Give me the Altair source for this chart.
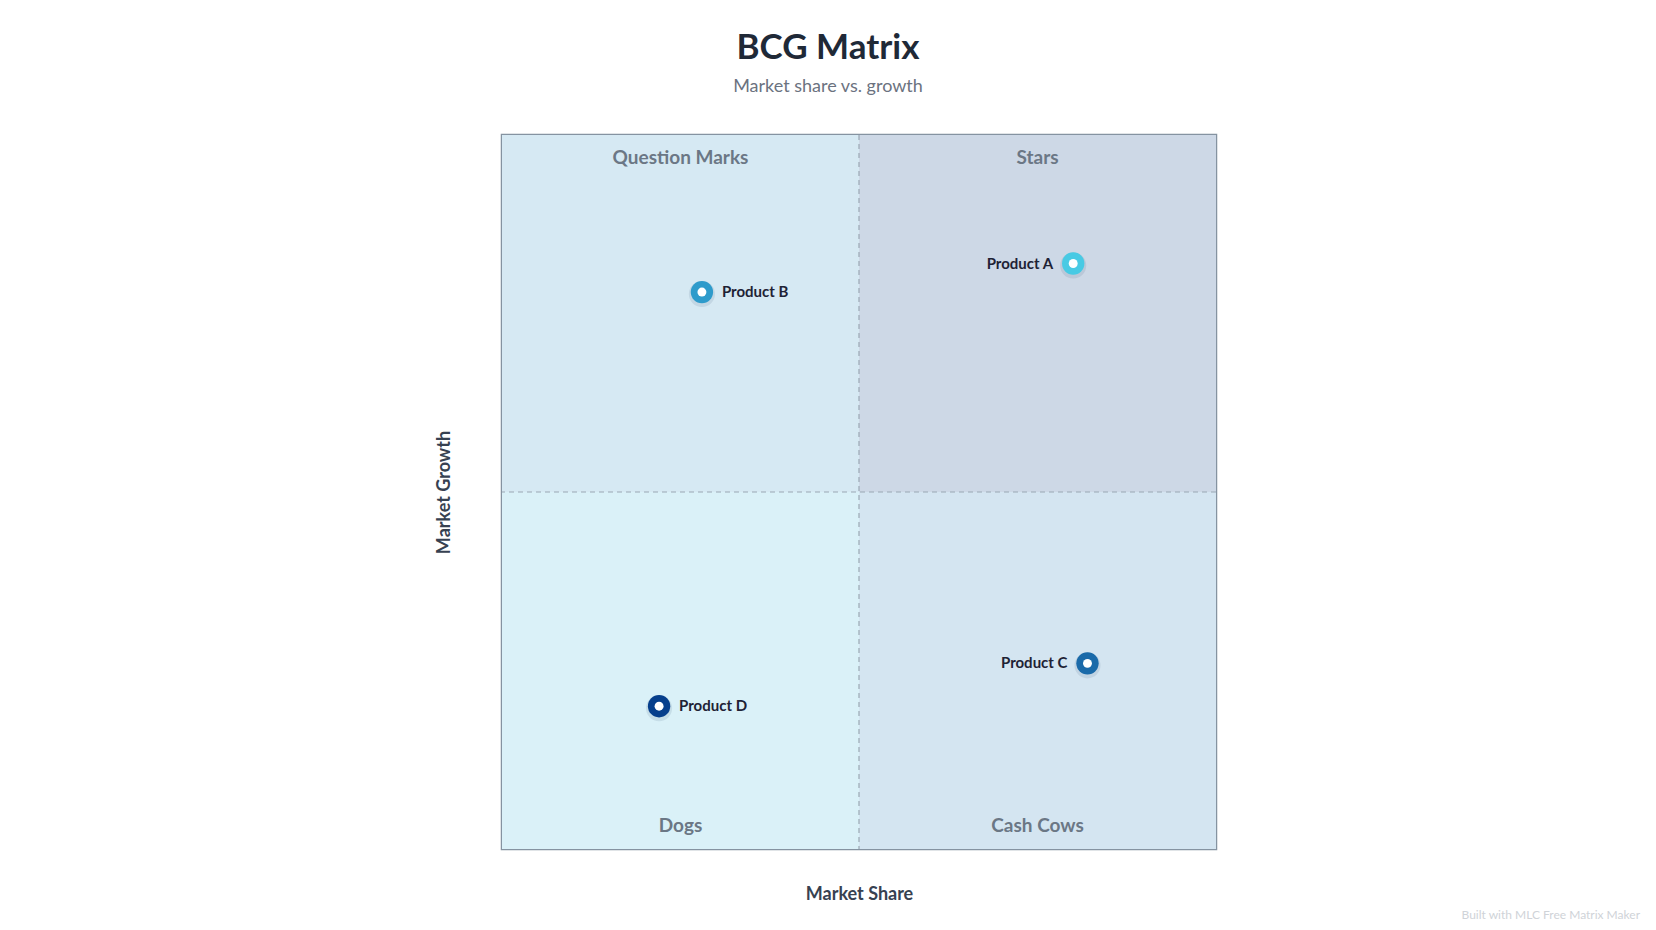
import altair as alt
import pandas as pd

# ---- data ----
quadrant_names = ["Question Marks", "Stars", "Dogs", "Cash Cows"]
quadrant_x0 = [0, 50, 0, 50]
quadrant_x1 = [50, 100, 50, 100]
quadrant_y0 = [50, 50, 0, 0]
quadrant_y1 = [100, 100, 50, 50]
quadrant_colors = ["#d6e9f3", "#cdd8e6", "#daf1f8", "#d4e5f1"]

label_top = ["Question Marks", "Stars"]
label_top_x = [25, 75]
label_bottom = ["Dogs", "Cash Cows"]
label_bottom_x = [25, 75]

products = ["Product A", "Product B", "Product C", "Product D"]
share = [80, 28, 82, 22]
growth = [82, 78, 26, 20]
product_colors = ["#48cae4", "#2e9bcb", "#1a6aa9", "#063f8c"]
label_side = ["left", "right", "left", "right"]

FONT = "Lato"

quads = pd.DataFrame({"name": quadrant_names, "x0": quadrant_x0, "x1": quadrant_x1,
                      "y0": quadrant_y0, "y1": quadrant_y1})
tops = pd.DataFrame({"name": label_top, "x": label_top_x, "y": [100] * len(label_top)})
bottoms = pd.DataFrame({"name": label_bottom, "x": label_bottom_x, "y": [0] * len(label_bottom)})
pts = pd.DataFrame({"name": products, "share": share, "growth": growth, "side": label_side})

xs = alt.Scale(domain=[0, 100], nice=False, zero=False)
ys = alt.Scale(domain=[0, 100], nice=False, zero=False)

xaxis = alt.Axis(labels=False, ticks=False, domain=False, grid=False, title="Market Share",
                 titleFont=FONT, titleFontSize=18, titleFontWeight="bold", titleColor="#374151",
                 titlePadding=36)
yaxis = alt.Axis(labels=False, ticks=False, domain=False, grid=False, title="Market Growth",
                 titleFont=FONT, titleFontSize=18, titleFontWeight="bold", titleColor="#374151",
                 titlePadding=49)

rects = alt.Chart(quads).mark_rect().encode(
    x=alt.X("x0:Q", scale=xs, axis=xaxis),
    x2="x1:Q",
    y=alt.Y("y0:Q", scale=ys, axis=yaxis),
    y2="y1:Q",
    color=alt.Color("name:N", scale=alt.Scale(domain=quadrant_names, range=quadrant_colors), legend=None),
)

vline = alt.Chart(pd.DataFrame({"x": [50]})).mark_rule(
    color="#9aa7b4", strokeDash=[5, 4], strokeWidth=1.2).encode(x=alt.X("x:Q", scale=xs))
hline = alt.Chart(pd.DataFrame({"y": [50]})).mark_rule(
    color="#9aa7b4", strokeDash=[5, 4], strokeWidth=1.2).encode(y=alt.Y("y:Q", scale=ys))

top_txt = alt.Chart(tops).mark_text(font=FONT, fontSize=19, fontWeight="bold", color="#6b7785",
                                    baseline="middle", dy=23).encode(
    x=alt.X("x:Q", scale=xs), y=alt.Y("y:Q", scale=ys), text="name:N")
bot_txt = alt.Chart(bottoms).mark_text(font=FONT, fontSize=19, fontWeight="bold", color="#6b7785",
                                       baseline="middle", dy=-23).encode(
    x=alt.X("x:Q", scale=xs), y=alt.Y("y:Q", scale=ys), text="name:N")

shadow = alt.Chart(pts).mark_point(filled=True, shape="circle", size=680, color="#1e3a5f",
                                   opacity=0.10, yOffset=2).encode(
    x=alt.X("share:Q", scale=xs), y=alt.Y("growth:Q", scale=ys))
dots = alt.Chart(pts).mark_point(filled=True, shape="circle", size=500, opacity=1).encode(
    x=alt.X("share:Q", scale=xs), y=alt.Y("growth:Q", scale=ys),
    fill=alt.Fill("name:N", scale=alt.Scale(domain=products, range=product_colors), legend=None))
inner = alt.Chart(pts).mark_point(filled=True, shape="circle", size=80, color="white", opacity=1).encode(
    x=alt.X("share:Q", scale=xs), y=alt.Y("growth:Q", scale=ys))

lab_left = alt.Chart(pts).transform_filter(alt.datum.side == "left").mark_text(
    font=FONT, fontSize=15, fontWeight="bold", color="#1e2235", align="right", baseline="middle", dx=-20).encode(
    x=alt.X("share:Q", scale=xs), y=alt.Y("growth:Q", scale=ys), text="name:N")
lab_right = alt.Chart(pts).transform_filter(alt.datum.side == "right").mark_text(
    font=FONT, fontSize=15, fontWeight="bold", color="#1e2235", align="left", baseline="middle", dx=20).encode(
    x=alt.X("share:Q", scale=xs), y=alt.Y("growth:Q", scale=ys), text="name:N")

watermark = alt.Chart(pd.DataFrame({"t": ["Built with MLC Free Matrix Maker"]})).mark_text(
    font=FONT, fontSize=12, color="#cfd3d8", align="right", baseline="middle").encode(
    x=alt.value(1138), y=alt.value(780), text="t:N")

chart = alt.layer(rects, vline, hline, top_txt, bot_txt, shadow, dots, inner, lab_left, lab_right,
                  watermark).properties(
    width=714, height=714,
    title=alt.TitleParams(text="BCG Matrix", subtitle="Market share vs. growth", anchor="middle",
                          dx=-31, font=FONT, fontSize=35, fontWeight="bold", color="#1f2937",
                          subtitleFont=FONT, subtitleFontSize=18, subtitleColor="#6b7280",
                          subtitlePadding=12, offset=38),
    padding={"left": 494, "top": 127, "right": 432, "bottom": 80},
    autosize=alt.AutoSizeParams(type="none"),
    background="white",
).configure_view(stroke="#8593a1", strokeWidth=2.5)

chart.save("out.html", embed_options={"renderer": "svg", "actions": False})
